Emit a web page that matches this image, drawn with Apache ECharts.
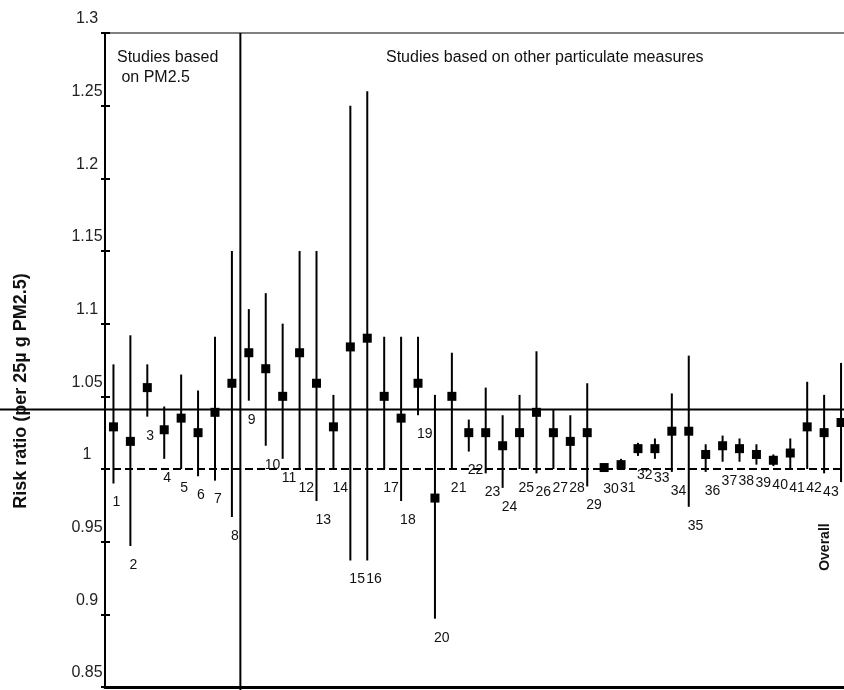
<!DOCTYPE html>
<html>
<head>
<meta charset="utf-8">
<script src="https://cdn.jsdelivr.net/npm/echarts@6/dist/echarts.min.js"></script>
<style>
  html, body { margin: 0; padding: 0; background: #fff; }
  #chart { width: 844px; height: 690px; }
</style>
</head>
<body>
<div id="chart"></div>
<script>
// Study identifiers along the x axis (last entry is the pooled estimate)
const studyLabels = [
  '1','2','3','4','5','6','7','8','9','10',
  '11','12','13','14','15','16','17','18','19','20',
  '21','22','23','24','25','26','27','28','29','30',
  '31','32','33','34','35','36','37','38','39','40',
  '41','42','43','Overall'
];

// Point estimates of the risk ratio
const estimates = [
  1.029, 1.019, 1.056, 1.027, 1.035, 1.025, 1.039, 1.059, 1.080, 1.069,
  1.050, 1.080, 1.059, 1.029, 1.084, 1.090, 1.050, 1.035, 1.059, 0.980,
  1.050, 1.025, 1.025, 1.016, 1.025, 1.039, 1.025, 1.019, 1.025, 1.001,
  1.003, 1.014, 1.014, 1.026, 1.026, 1.010, 1.016, 1.014, 1.010, 1.006,
  1.011, 1.029, 1.025, 1.032
];

// Lower 95% confidence limits
const lowerCI = [
  0.990, 0.947, 1.036, 1.007, 1.000, 0.995, 0.992, 0.967, 1.047, 1.016,
  1.007, 1.000, 0.978, 1.000, 0.937, 0.937, 1.000, 0.978, 1.037, 0.897,
  1.000, 1.012, 0.997, 0.987, 1.000, 0.997, 1.000, 1.000, 0.988, 0.999,
  1.000, 1.009, 1.007, 0.998, 0.974, 0.998, 1.005, 1.005, 1.003, 1.002,
  1.000, 1.000, 0.997, 0.991
];

// Upper 95% confidence limits
const upperCI = [
  1.072, 1.092, 1.072, 1.043, 1.065, 1.054, 1.091, 1.150, 1.110, 1.121,
  1.100, 1.150, 1.150, 1.051, 1.250, 1.260, 1.091, 1.091, 1.091, 1.051,
  1.080, 1.034, 1.056, 1.037, 1.051, 1.081, 1.041, 1.037, 1.059, 1.002,
  1.007, 1.018, 1.021, 1.052, 1.078, 1.017, 1.023, 1.021, 1.017, 1.010,
  1.021, 1.060, 1.051, 1.073
];

// Y axis scale and reference values
const yMin = 0.85, yMax = 1.3, yStep = 0.05;
const nullValue = 1.0;        // dashed line of no effect
const referenceValue = 1.041; // solid horizontal reference line
const groupBoundary = 8.5;    // between PM2.5 studies and other measures

const FONT = '"Liberation Sans", Arial, sans-serif';
const INK = '#111';

const studyData = studyLabels.map((s, i) => [i + 1, estimates[i], lowerCI[i], upperCI[i]]);

const chart = echarts.init(document.getElementById('chart'), null, { renderer: 'canvas' });

const option = {
  animation: false,
  backgroundColor: '#ffffff',
  grid: { left: 105, top: 33, width: 744.5, height: 654, outerBoundsMode: 'none', containLabel: false },
  xAxis: [
    {
      type: 'value', min: 0.5, max: studyLabels.length + 0.5, position: 'bottom',
      axisLine: { show: true, onZero: false, lineStyle: { color: '#000', width: 3 } },
      axisTick: { show: false }, axisLabel: { show: false }, splitLine: { show: false }
    },
    {
      type: 'value', min: 0.5, max: studyLabels.length + 0.5, position: 'top',
      axisLine: { show: true, onZero: false, lineStyle: { color: '#808080', width: 2 } },
      axisTick: { show: false }, axisLabel: { show: false }, splitLine: { show: false }
    }
  ],
  yAxis: [
    {
      type: 'value', min: yMin, max: yMax, interval: yStep, position: 'left',
      axisLine: { show: true, onZero: false, lineStyle: { color: '#000', width: 2 } },
      axisTick: { show: true, inside: true, length: 5, lineStyle: { color: '#000', width: 2 } },
      axisLabel: {
        show: true, margin: 18, align: 'center', verticalAlign: 'bottom', lineHeight: 28,
        fontFamily: FONT, fontSize: 16, color: '#222',
        showMinLabel: true, showMaxLabel: true, hideOverlap: false
      },
      splitLine: { show: false }
    },
    {
      type: 'value', min: yMin, max: yMax, interval: yStep, position: 'left', offset: 0,
      axisLine: { show: false },
      axisTick: { show: true, inside: false, length: 4, lineStyle: { color: '#000', width: 2 } },
      axisLabel: { show: false }, splitLine: { show: false }
    }
  ],
  graphic: [
    {
      type: 'text', x: 117, y: 48,
      style: { text: 'Studies based\n on PM2.5', fontFamily: FONT, fontSize: 16, lineHeight: 20,
               fill: INK, align: 'left', verticalAlign: 'top' }
    },
    {
      type: 'text', x: 386, y: 58,
      style: { text: 'Studies based on other particulate measures', fontFamily: FONT, fontSize: 16,
               fill: INK, align: 'left', verticalAlign: 'middle' }
    },
    {
      type: 'text', x: 21, y: 391, rotation: Math.PI / 2,
      style: { text: 'Risk ratio (per 25µ g PM2.5)', fontFamily: FONT, fontSize: 18, fontWeight: 'bold',
               fill: INK, align: 'center', verticalAlign: 'middle' }
    }
  ],
  series: [
    {
      // Frame lines: group separator, null line and reference line
      type: 'custom', xAxisIndex: 0, yAxisIndex: 0, clip: false, silent: true, z: 1,
      data: [[groupBoundary, nullValue, referenceValue]],
      renderItem: function (params, api) {
        const cs = params.coordSys;
        const sepX = api.coord([api.value(0), yMin])[0];
        const yNull = api.coord([1, api.value(1)])[1];
        const yRef = api.coord([1, api.value(2)])[1];
        return {
          type: 'group',
          children: [
            { type: 'line', shape: { x1: sepX, y1: cs.y, x2: sepX, y2: cs.y + cs.height + 3 },
              style: { stroke: '#000', lineWidth: 2 } },
            { type: 'line', shape: { x1: cs.x - 4, y1: yNull, x2: api.getWidth(), y2: yNull },
              style: { stroke: '#000', lineWidth: 2, lineDash: [8, 4] } },
            { type: 'line', shape: { x1: 0, y1: yRef, x2: api.getWidth(), y2: yRef },
              style: { stroke: '#000', lineWidth: 2 } }
          ]
        };
      }
    },
    {
      // Confidence intervals, point estimates and study numbers
      type: 'custom', xAxisIndex: 0, yAxisIndex: 0, clip: false, z: 3,
      data: studyData,
      renderItem: function (params, api) {
        const x = api.value(0);
        const pEst = api.coord([x, api.value(1)]);
        const pLo = api.coord([x, api.value(2)]);
        const pHi = api.coord([x, api.value(3)]);
        const label = studyLabels[params.dataIndex];
        const isPooled = params.dataIndex === studyLabels.length - 1;
        const labelEl = isPooled
          ? { type: 'text', x: pEst[0] - 15.5, y: pLo[1] + 65, rotation: Math.PI / 2,
              style: { text: label, fontFamily: FONT, fontSize: 14, fontWeight: 'bold', fill: INK,
                       align: 'center', verticalAlign: 'middle' } }
          : { type: 'text', x: pEst[0] - 1, y: pLo[1] + 19,
              style: { text: label, fontFamily: FONT, fontSize: 14, fill: INK,
                       align: 'left', verticalAlign: 'middle' } };
        return {
          type: 'group',
          children: [
            { type: 'line', shape: { x1: pEst[0], y1: pLo[1], x2: pEst[0], y2: pHi[1] },
              style: { stroke: '#000', lineWidth: 2 } },
            { type: 'rect', shape: { x: pEst[0] - 4.5, y: pEst[1] - 4.5, width: 9, height: 9 },
              style: { fill: '#000' } },
            labelEl
          ]
        };
      }
    }
  ]
};

chart.setOption(option);
</script>
</body>
</html>
